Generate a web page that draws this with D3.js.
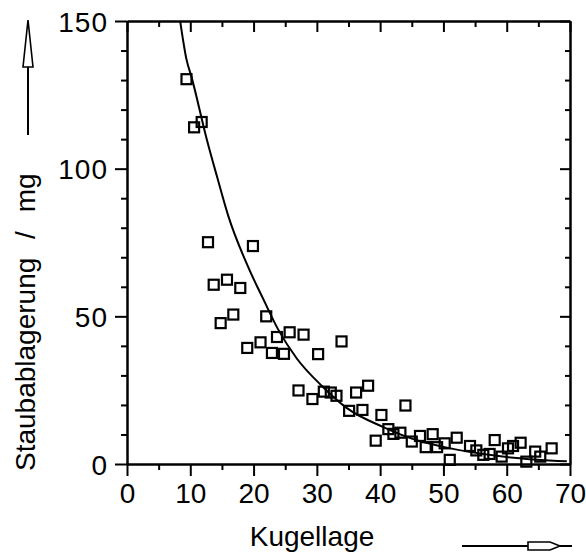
<!DOCTYPE html>
<html>
<head>
<meta charset="utf-8">
<script src="https://cdn.jsdelivr.net/npm/d3@7"></script>
<style>
  html, body { margin: 0; padding: 0; background: #fff; }
  svg { display: block; }
  text { font-family: "Liberation Sans", Arial, Helvetica, sans-serif; fill: #000; }
</style>
</head>
<body>
<svg id="chart" width="586" height="556"></svg>
<script>
// Measured dust deposit per ball position
const kugellage = [9.4, 10.6, 11.8, 12.8, 19.9, 13.7, 15.8, 17.9, 14.8, 16.8,
  22.0, 19.0, 21.1, 23.7, 25.7, 27.9, 33.9, 22.9, 24.8, 30.2,
  27.1, 29.3, 31.1, 32.2, 33.1, 36.2, 38.1, 35.1, 37.2, 40.2,
  44.0, 41.3, 42.1, 43.2, 39.3, 45.0, 46.3, 48.3, 47.2, 49.0,
  50.2, 52.1, 51.0, 54.2, 55.2, 56.3, 57.3, 58.1, 59.2, 60.2,
  61.0, 62.2, 63.1, 64.5, 65.3, 67.1];
const staubablagerung = [130.3, 114.0, 115.8, 75.1, 73.8, 60.7, 62.4, 59.6, 47.7, 50.6,
  50.0, 39.3, 41.2, 43.0, 44.6, 43.8, 41.5, 37.6, 37.3, 37.2,
  24.9, 22.0, 24.5, 24.2, 23.1, 24.2, 26.5, 18.0, 18.3, 16.6,
  19.8, 11.8, 10.2, 10.6, 7.9, 7.6, 9.5, 10.1, 5.7, 5.7,
  7.0, 8.9, 1.4, 6.1, 4.6, 3.1, 3.4, 8.1, 2.5, 5.3,
  6.1, 7.2, 0.8, 4.2, 2.5, 5.3];

// Fitted trend curve
const fitX = [8.4, 9.4, 10.2, 12.6, 14.2, 16.0, 19.4, 21.5, 23.9, 26.8, 31.0, 34.7, 40.5, 45.0, 50.0, 59.0, 69.5];
const fitY = [150, 137, 131, 110, 97.5, 84, 65.5, 56, 45.5, 35.8, 26, 19, 12.5, 8.6, 5.8, 2.6, 0.9];

const xTicks = [0, 10, 20, 30, 40, 50, 60, 70];
const xMinor = [5, 15, 25, 35, 45, 55, 65];
const yTicks = [0, 50, 100, 150];
const yMinor = [10, 20, 30, 40, 60, 70, 80, 90, 110, 120, 130, 140];

const svg = d3.select("#chart");
const x = d3.scaleLinear().domain([0, 70]).range([127, 570]);
const y = d3.scaleLinear().domain([0, 150]).range([464, 21]);

const fontSize = 28;

function styleAxis(g) {
  g.selectAll("path.domain").attr("stroke", "#000").attr("stroke-width", 2.5);
  g.selectAll(".tick line").attr("stroke", "#000").attr("stroke-width", 2);
  g.selectAll(".tick text").attr("font-size", fontSize).attr("fill", "#000")
    .attr("font-family", "'Liberation Sans', Arial, sans-serif");
}

// Bottom axis with labels
const gb = svg.append("g").attr("transform", `translate(0,${y(0)})`)
  .call(d3.axisBottom(x).tickValues(xTicks).tickSize(12).tickSizeOuter(0).tickPadding(8).tickFormat(d3.format("d")));
styleAxis(gb);
gb.selectAll(".tick text").attr("dy", null).attr("y", 39);
svg.append("g").attr("transform", `translate(0,${y(0)})`)
  .call(d3.axisBottom(x).tickValues(xMinor).tickSize(6).tickFormat(""))
  .call(g => g.select("path.domain").remove()).call(styleAxis);

// Top axis, ticks pointing inward
svg.append("g").attr("transform", `translate(0,${y(150)})`)
  .call(d3.axisBottom(x).tickValues(xTicks).tickSize(11).tickSizeOuter(0).tickFormat(""))
  .call(styleAxis);
svg.append("g").attr("transform", `translate(0,${y(150)})`)
  .call(d3.axisBottom(x).tickValues(xMinor).tickSize(6).tickFormat(""))
  .call(g => g.select("path.domain").remove()).call(styleAxis);

// Left axis with labels
const gl = svg.append("g").attr("transform", `translate(${x(0)},0)`)
  .call(d3.axisLeft(y).tickValues(yTicks).tickSize(12).tickSizeOuter(0).tickPadding(7).tickFormat(d3.format("d")));
styleAxis(gl);
gl.selectAll(".tick text").attr("dy", "0.36em").attr("letter-spacing", 1);
svg.append("g").attr("transform", `translate(${x(0)},0)`)
  .call(d3.axisLeft(y).tickValues(yMinor).tickSize(6).tickFormat(""))
  .call(g => g.select("path.domain").remove()).call(styleAxis);

// Right axis, ticks pointing inward
svg.append("g").attr("transform", `translate(${x(70)},0)`)
  .call(d3.axisLeft(y).tickValues(yTicks).tickSize(10).tickSizeOuter(0).tickFormat(""))
  .call(styleAxis);
svg.append("g").attr("transform", `translate(${x(70)},0)`)
  .call(d3.axisLeft(y).tickValues(yMinor).tickSize(5).tickFormat(""))
  .call(g => g.select("path.domain").remove()).call(styleAxis);

// Trend curve
const fit = fitX.map((d, i) => [d, fitY[i]]);
svg.append("path")
  .datum(fit)
  .attr("fill", "none")
  .attr("stroke", "#000")
  .attr("stroke-width", 2)
  .attr("d", d3.line().x(d => x(d[0])).y(d => y(d[1])).curve(d3.curveMonotoneX));

// Measured points as open squares
const side = 10;
svg.append("g").selectAll("rect")
  .data(kugellage.map((d, i) => [d, staubablagerung[i]]))
  .join("rect")
  .attr("x", d => x(d[0]) - side / 2)
  .attr("y", d => y(d[1]) - side / 2)
  .attr("width", side)
  .attr("height", side)
  .attr("fill", "none")
  .attr("stroke", "#000")
  .attr("stroke-width", 2.2);

// Axis titles
svg.append("text")
  .attr("transform", "translate(35,471) rotate(-90)")
  .attr("text-anchor", "start")
  .attr("font-size", fontSize)
  .attr("word-spacing", 11)
  .text("Staubablagerung / mg");

svg.append("text")
  .attr("x", 312)
  .attr("y", 546)
  .attr("text-anchor", "middle")
  .attr("font-size", fontSize)
  .text("Kugellage");

// Direction arrows
const arrows = svg.append("g").attr("stroke", "#000").attr("stroke-width", 2).attr("fill", "#fff");
arrows.append("line").attr("x1", 28).attr("y1", 135).attr("x2", 28).attr("y2", 66);
arrows.append("path").attr("stroke-width", 1.6)
  .attr("d", "M28,20 L33,67 L23,67 Z");

arrows.append("line").attr("x1", 462).attr("y1", 546).attr("x2", 572).attr("y2", 546);
arrows.append("path").attr("stroke-width", 1.6)
  .attr("d", "M528,542 L550,542 L560,546 L550,550 L528,550 Z");
</script>
</body>
</html>
